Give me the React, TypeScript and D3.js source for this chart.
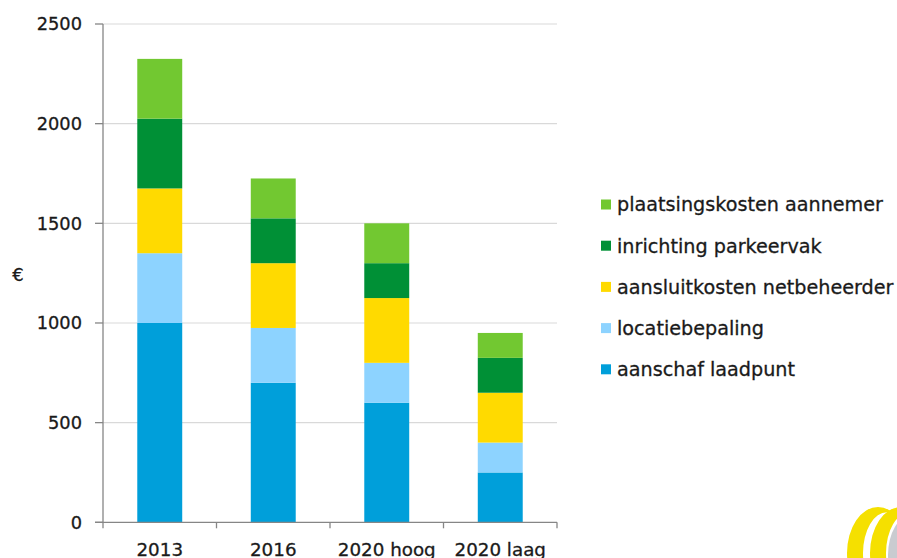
import React from "react";
import * as d3 from "d3";

// Cost per charging point, broken down by component (euro)
const categories = ["2013", "2016", "2020 hoog", "2020 laag"];
const seriesNames = [
  "aanschaf laadpunt",
  "locatiebepaling",
  "aansluitkosten netbeheerder",
  "inrichting parkeervak",
  "plaatsingskosten aannemer",
];
const aanschafLaadpunt = [1000, 700, 600, 250];
const locatiebepaling = [350, 275, 200, 150];
const aansluitkostenNetbeheerder = [325, 325, 325, 250];
const inrichtingParkeervak = [350, 225, 175, 175];
const plaatsingskostenAannemer = [300, 200, 200, 125];
const yTicks = [0, 500, 1000, 1500, 2000, 2500];
const seriesColors = ["#009FDA", "#8DD3FF", "#FFDA00", "#009036", "#72C831"];

const W = 897;
const H = 558;
const plot = { left: 103, right: 557, top: 24, bottom: 522.3 };
const FONT = "'DejaVu Sans', Verdana, sans-serif";
const TEXT = "#1a1a1a";

export default function App() {
  const values = [
    aanschafLaadpunt,
    locatiebepaling,
    aansluitkostenNetbeheerder,
    inrichtingParkeervak,
    plaatsingskostenAannemer,
  ];
  const rows = categories.map((c, i) => {
    const r: Record<string, any> = { category: c };
    seriesNames.forEach((s, k) => (r[s] = values[k][i]));
    return r;
  });
  const stacked = d3.stack<any>().keys(seriesNames)(rows);

  const x = d3
    .scaleBand<string>()
    .domain(categories)
    .range([plot.left, plot.right])
    .paddingInner(0.604)
    .paddingOuter(0.302);
  const y = d3.scaleLinear().domain([0, 2500]).range([plot.bottom, plot.top]);
  const step = x.step();

  const legendOrder = [...seriesNames].reverse();
  const legendY0 = 204.5;
  const legendGap = 41.2;

  const textStyle = { stroke: TEXT, strokeWidth: 0.3 };

  // ring logo in the lower right corner
  const crescent = (cx: number, cy: number, rx: number, ry: number, dx: number, shrink: number) => {
    const e = (ecx: number, erx: number, ery: number) =>
      `M${ecx - erx},${cy} a${erx},${ery} 0 1,0 ${2 * erx},0 a${erx},${ery} 0 1,0 ${-2 * erx},0 Z`;
    return e(cx, rx, ry) + " " + e(cx + dx, rx - shrink, ry - shrink * 0.75);
  };

  return (
    <svg
      width={W}
      height={H}
      viewBox={`0 0 ${W} ${H}`}
      style={{ position: "fixed", left: 0, top: 0, background: "#fff" }}
    >
      <rect width={W} height={H} fill="#fff" />

      {/* gridlines */}
      {yTicks.slice(1).map((t) => (
        <line
          key={"g" + t}
          x1={plot.left}
          x2={plot.right}
          y1={y(t)}
          y2={y(t)}
          stroke="#d9d9d9"
          strokeWidth={1.2}
        />
      ))}

      {/* bars */}
      {stacked.map((layer, k) => (
        <g key={layer.key} fill={seriesColors[k]}>
          {layer.map((d, i) => (
            <rect
              key={i}
              x={x(categories[i])}
              width={x.bandwidth()}
              y={y(d[1])}
              height={y(d[0]) - y(d[1])}
            />
          ))}
        </g>
      ))}

      {/* axes */}
      <line x1={plot.left} x2={plot.left} y1={plot.top} y2={plot.bottom} stroke="#868686" strokeWidth={1.3} />
      <line x1={plot.left - 8} x2={plot.right} y1={plot.bottom} y2={plot.bottom} stroke="#868686" strokeWidth={1.3} />
      {yTicks.map((t) => (
        <g key={"t" + t}>
          <line x1={plot.left - 8} x2={plot.left} y1={y(t)} y2={y(t)} stroke="#868686" strokeWidth={1.3} />
          <text
            x={82}
            y={y(t)}
            dy="0.36em"
            textAnchor="end"
            fontFamily={FONT}
            fontSize={17.8}
            fill={TEXT}
            style={textStyle}
          >
            {t}
          </text>
        </g>
      ))}
      {d3.range(categories.length + 1).map((i) => (
        <line
          key={"xt" + i}
          x1={plot.left + i * step}
          x2={plot.left + i * step}
          y1={plot.bottom}
          y2={plot.bottom + 6}
          stroke="#868686"
          strokeWidth={1.3}
        />
      ))}
      {categories.map((c) => (
        <text
          key={"xl" + c}
          x={(x(c) as number) + x.bandwidth() / 2}
          y={555.5}
          textAnchor="middle"
          fontFamily={FONT}
          fontSize={18.3}
          fill={TEXT}
          style={textStyle}
        >
          {c}
        </text>
      ))}

      {/* y axis unit */}
      <text x={18} y={275} dy="0.36em" textAnchor="middle" fontFamily={FONT} fontSize={18} fill={TEXT} style={textStyle}>
        €
      </text>

      {/* legend */}
      {legendOrder.map((name, j) => {
        const k = seriesNames.indexOf(name);
        const cy = legendY0 + j * legendGap;
        return (
          <g key={"l" + name}>
            <rect x={601} y={cy - 5} width={10} height={10} fill={seriesColors[k]} />
            <text x={617} y={cy} dy="0.36em" fontFamily={FONT} fontSize={19.2} fill={TEXT} style={textStyle}>
              {name}
            </text>
          </g>
        );
      })}

      {/* logo */}
      <g>
        <path d={crescent(878, 553, 31, 46, 9, 7)} fill="#F5E000" fillRule="evenodd" />
        <path d={crescent(901, 553, 31, 46, 9, 7)} fill="#F5E000" fillRule="evenodd" />
        <path d={crescent(912, 555, 24, 40, 6, 5)} fill="#c9cbd0" fillRule="evenodd" />
      </g>
    </svg>
  );
}
